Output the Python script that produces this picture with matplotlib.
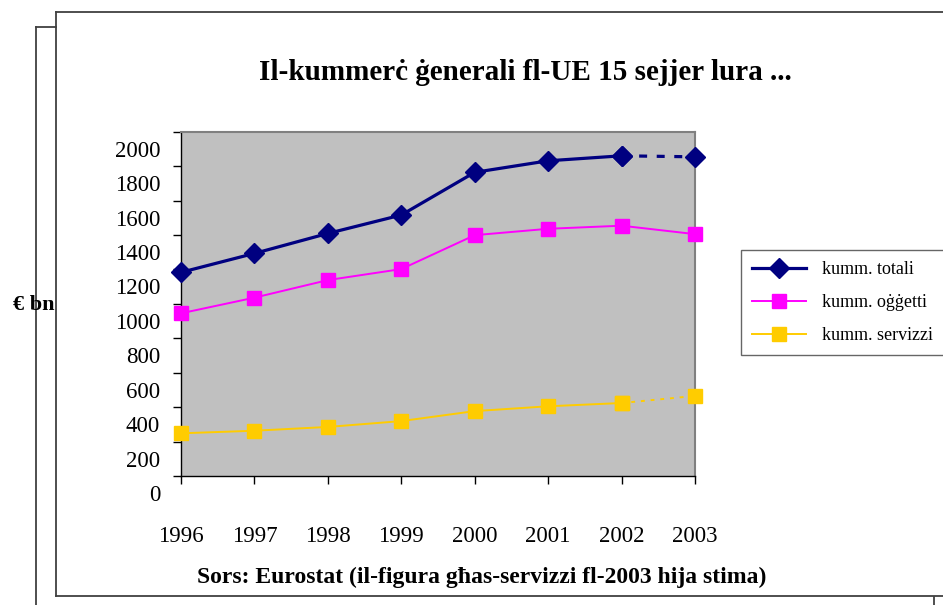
import matplotlib.pyplot as plt
import matplotlib.transforms as mtransforms
from matplotlib.lines import Line2D

plt.rcParams['font.family'] = ['Liberation Serif', 'DejaVu Serif']

years = [1996, 1997, 1998, 1999, 2000, 2001, 2002, 2003]
totali = [1183, 1293, 1409, 1516, 1764, 1831, 1860, 1854]
oggetti = [945, 1036, 1138, 1202, 1399, 1436, 1454, 1405]
servizzi = [248, 263, 285, 319, 377, 405, 424, 465]
yticks = list(range(0, 2001, 200))

fig = plt.figure(figsize=(9.43, 6.05), dpi=100)
W, H = 943, 605
ax = fig.add_axes([181 / W, 1 - 476 / H, 514 / W, (476 - 131.7) / H])
ax.set_facecolor('#C0C0C0')

navy, mag, gold = '#000080', '#FF00FF', '#FFCC00'

# totali: solid up to 2002, dashed to the 2003 estimate
ax.plot(years[:-1], totali[:-1], color=navy, lw=2.3, marker='D', ms=10,
        clip_on=False, zorder=5, label='kumm. totali')
ax.plot(years[-2:], totali[-2:], color=navy, lw=2.3, ls=(0, (2.5, 3)), marker='D', ms=10,
        clip_on=False, zorder=5)
ax.plot(years, oggetti, color=mag, lw=1.4, marker='s', ms=9.5,
        clip_on=False, zorder=4, label='kumm. oġġetti')
ax.plot(years[:-1], servizzi[:-1], color=gold, lw=1.4, marker='s', ms=9.5,
        clip_on=False, zorder=4, label='kumm. servizzi')
ax.plot(years[-2:], servizzi[-2:], color=gold, lw=1.4, ls=(0, (2, 3)), marker='s', ms=9.5,
        clip_on=False, zorder=4)

ax.set_xlim(1996, 2003)
ax.set_ylim(0, 2000)
ax.set_xticks(years)
ax.set_yticks(yticks)
ax.tick_params(axis='both', direction='out', length=6, width=1, labelsize=16.5, color='black')
ax.tick_params(axis='x', pad=30)
ax.tick_params(axis='y', pad=9)

# tick labels sit a little below their ticks in the original
off = mtransforms.ScaledTranslation(0, -0.17, fig.dpi_scale_trans)
for lab in ax.get_yticklabels():
    lab.set_transform(lab.get_transform() + off)

for s in ['top', 'right']:
    ax.spines[s].set_color('#808080')
    ax.spines[s].set_linewidth(1.5)
for s in ['left', 'bottom']:
    ax.spines[s].set_color('black')
    ax.spines[s].set_linewidth(1)

fig.text(525 / W, 1 - 72 / H, 'Il-kummerċ ġenerali fl-UE 15 sejjer lura ...',
         ha='center', va='center', fontsize=21, fontweight='bold')
fig.text(482 / W, 1 - 577 / H, 'Sors: Eurostat (il-figura għas-servizzi fl-2003 hija stima)',
         ha='center', va='center', fontsize=17, fontweight='bold')
fig.text(34 / W, 1 - 305 / H, '€ bn', ha='center', va='center', fontsize=16, fontweight='bold')

leg = fig.legend(loc='upper left', bbox_to_anchor=(741 / W, 1 - 250 / H),
                 fontsize=13, frameon=True, fancybox=False, handlelength=3,
                 labelspacing=0.9, borderpad=0.6, handletextpad=0.9, borderaxespad=0)
leg.get_frame().set_edgecolor('#404040')
leg.get_frame().set_linewidth(1)

# page frame lines around the chart
frame = '#404040'
def seg(x0, y0, x1, y1):
    fig.add_artist(Line2D([x0 / W, x1 / W], [1 - y0 / H, 1 - y1 / H],
                          color=frame, lw=1.3, transform=fig.transFigure))

seg(56, 12, 950, 12)
seg(56, 12, 56, 596)
seg(56, 596, 950, 596)
seg(36, 27, 56, 27)
seg(36, 27, 36, 610)
seg(934, 597, 934, 610)

fig.savefig('out.png', dpi=100)
